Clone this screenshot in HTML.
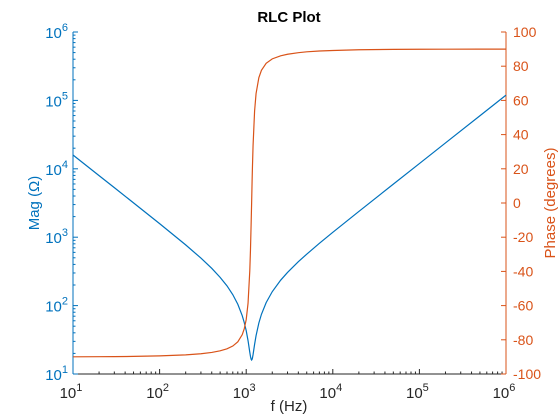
<!DOCTYPE html>
<html><head><meta charset="utf-8"><style>
body{margin:0;background:#fff;}
svg{display:block;font-family:"Liberation Sans",sans-serif;}
</style></head><body>
<svg id="chart" width="560" height="420" viewBox="0 0 560 420" xmlns="http://www.w3.org/2000/svg">
<rect width="560" height="420" fill="#fff"/>
<text x="289" y="22" text-anchor="middle" font-size="15" font-weight="bold" fill="#000">RLC Plot</text>
<text x="289" y="411" text-anchor="middle" font-size="15" fill="#262626">f (Hz)</text>
<text transform="translate(39,203) rotate(-90)" text-anchor="middle" font-size="15" fill="#0072BD">Mag (Ω)</text>
<text transform="translate(555,203) rotate(-90)" text-anchor="middle" font-size="15" fill="#D95319">Phase (degrees)</text>
<g id="g"></g>
</svg>
<script>
const freqs=[10,20,30,50,100,200,300,400,500,600,700,800,900,950,1000,1050,1100,1120,1140,1155,1170,1180,1200,1250,1300,1400,1500,1700,2000,2500,3000,4000,5000,7000,1e4,2e4,5e4,1e5,2e5,5e5,1e6];
const mags=[15914,7955,5301,3177,1580,772,494.9,350.5,258.5,194.4,144.7,104.7,71.2,56.4,43,30.8,20.8,18.1,16.4,16,16.4,17.1,19.2,27.1,36.4,55.7,74.7,110.5,160,235.3,305,438,565,813,1178,2380,5969,11938,23876,59690,119380];
const phases=[-89.94,-89.88,-89.83,-89.71,-89.42,-88.8,-88.15,-87.38,-86.45,-85.28,-83.65,-81.2,-77,-73.5,-68.2,-58.7,-39.7,-27.7,-12.3,0,13,20.6,33.5,53.8,64,73.3,77.6,81.7,84.3,86.1,87,87.9,88.4,88.9,89.2,89.6,89.85,89.92,89.96,89.98,89.99];
const xDecades=[1,2,3,4,5,6];
const yDecades=[1,2,3,4,5,6];
const phaseTicks=[-100,-80,-60,-40,-20,0,20,40,60,80,100];

const L=73,R=506,T=32,B=374;
const NS='http://www.w3.org/2000/svg';
const g=document.getElementById('g');
function xs(f){return L+(Math.log10(f)-1)/5*(R-L);}
function ym(m){return B-(Math.log10(m)-1)/5*(B-T);}
function yp(p){return B-(p+100)/200*(B-T);}
function el(t,a){const e=document.createElementNS(NS,t);for(const k in a)e.setAttribute(k,a[k]);g.appendChild(e);return e;}
function sup(x,y,exp,color,anchor){
  const t=el('text',{x:x,y:y,'font-size':15,fill:color,'text-anchor':anchor});
  
  
  t.innerHTML='10<tspan dy="-7" font-size="11">'+exp+'</tspan>';
  return t;
}
const xa=el('line',{x1:L,y1:B,x2:R,y2:B,stroke:'#262626','stroke-width':1});


xDecades.forEach(d=>{
  const x=xs(Math.pow(10,d));
  el('line',{x1:x,y1:B,x2:x,y2:B-5,stroke:'#262626'});
  sup(x-2,B+24,d,'#262626','middle');
  if(d<6)for(let k=2;k<10;k++){const xx=xs(k*Math.pow(10,d));el('line',{x1:xx,y1:B,x2:xx,y2:B-2.5,stroke:'#262626'});}
});
const la=el('line',{x1:L,y1:T,x2:L,y2:B,stroke:'#0072BD'});


yDecades.forEach(d=>{
  const y=ym(Math.pow(10,d));
  el('line',{x1:L,y1:y,x2:L+5,y2:y,stroke:'#0072BD'});
  sup(L-5,y+6,d,'#0072BD','end');
  if(d<6)for(let k=2;k<10;k++){const yy=ym(k*Math.pow(10,d));el('line',{x1:L,y1:yy,x2:L+2.5,y2:yy,stroke:'#0072BD'});}
});
const ra=el('line',{x1:R,y1:T,x2:R,y2:B,stroke:'#D95319'});


phaseTicks.forEach(p=>{
  const y=yp(p);
  el('line',{x1:R,y1:y,x2:R-5,y2:y,stroke:'#D95319'});
  const t=el('text',{x:R+7,y:y+5,'font-size':14,fill:'#D95319'});
  
  
  t.textContent=p;
});
const mp=el('polyline',{points:freqs.map((f,i)=>xs(f)+','+ym(mags[i])).join(' '),fill:'none',stroke:'#0072BD','stroke-width':1.2});


const pp=el('polyline',{points:freqs.map((f,i)=>xs(f)+','+yp(phases[i])).join(' '),fill:'none',stroke:'#D95319','stroke-width':1.2});


</script>
</body></html>
